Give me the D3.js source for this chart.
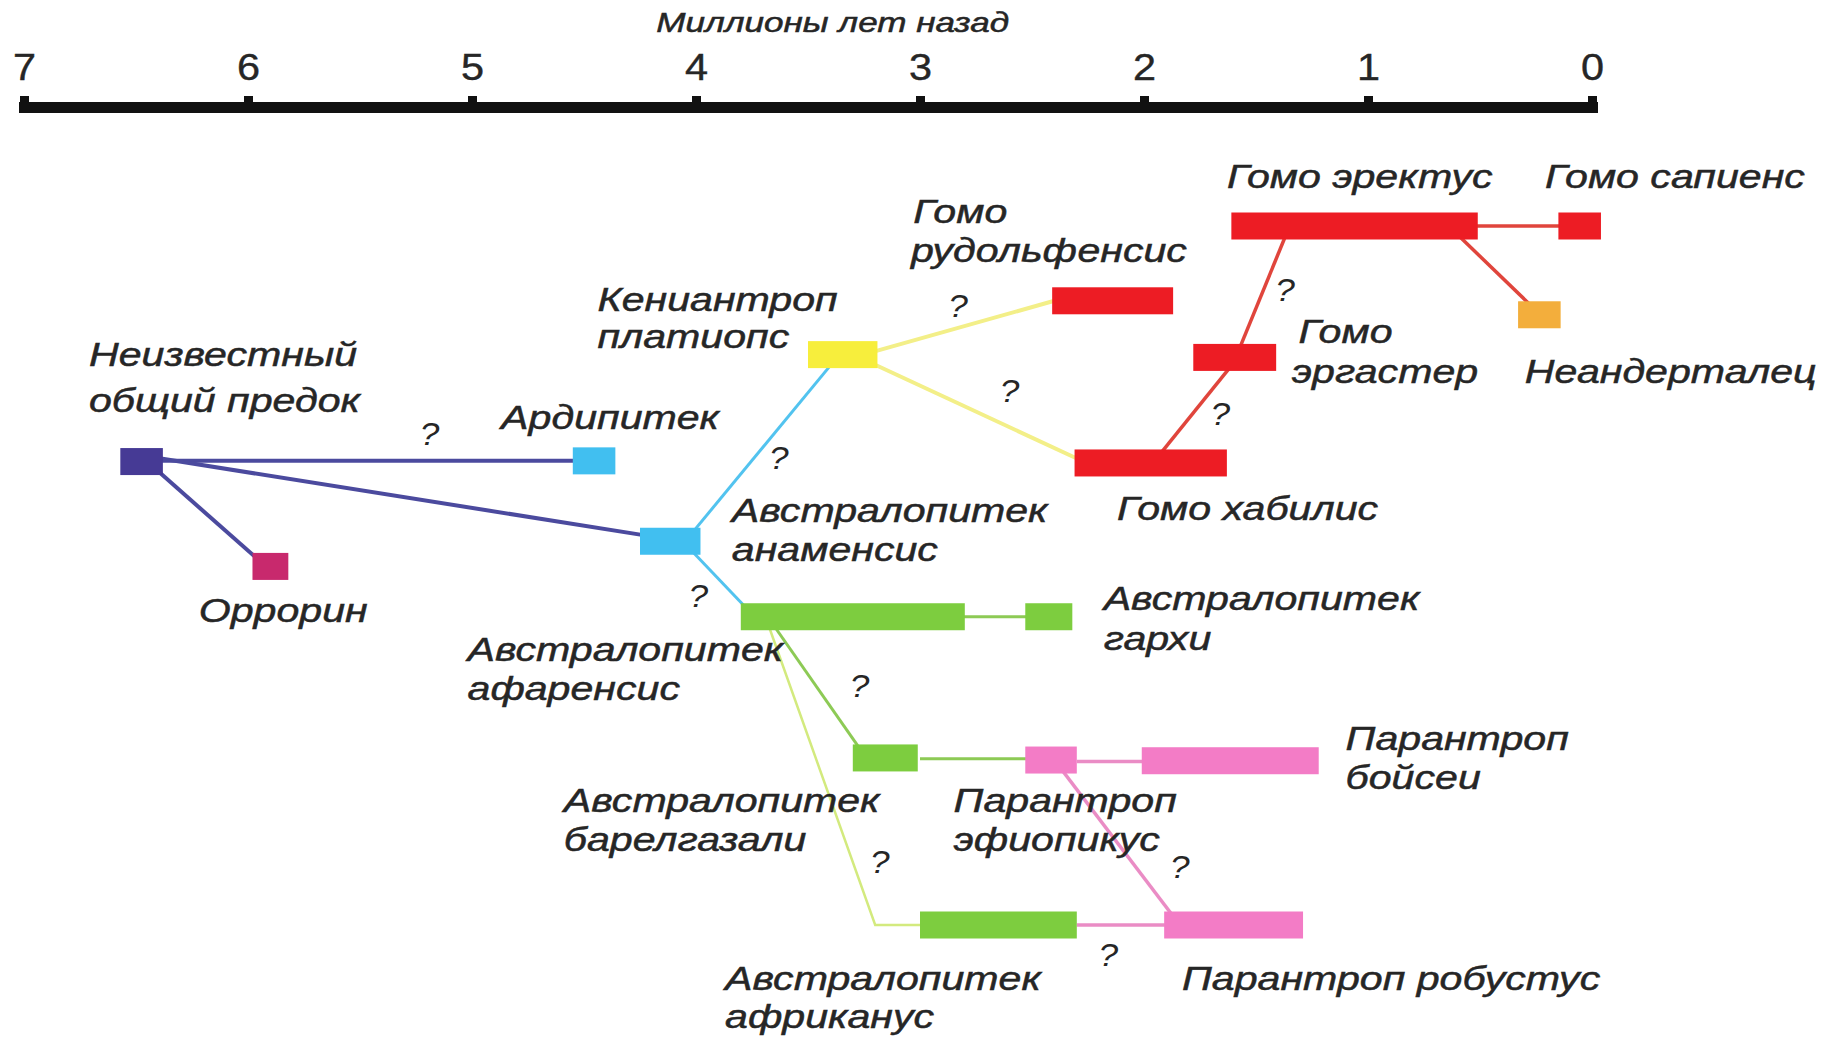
<!DOCTYPE html>
<html lang="ru">
<head>
<meta charset="UTF-8">
<title>Эволюция гоминид</title>
<style>
  html, body { margin: 0; padding: 0; background: #ffffff; }
  #SVG { display: block; }
  text { font-family: "Liberation Sans", Arial, sans-serif; fill: #262626; }
</style>
</head>
<body>
<svg id="SVG"></svg>
<script src="https://d3js.org/d3.v7.min.js"></script>
<script>
// ---------- данные ----------
// ось времени (млн лет назад)
var ticks = [7, 6, 5, 4, 3, 2, 1, 0];
var axisTitle = "Миллионы лет назад";
var axisTitleT = 3.39;

// виды: начало и конец (млн лет назад), ряд, группа цвета
var species = ["предок", "оррорин", "ардипитек", "анаменсис", "кениантроп",
  "рудольфенсис", "хабилис", "эргастер", "эректус", "сапиенс", "неандерталец",
  "афаренсис", "гархи", "барелгазали", "эфиопикус", "бойсеи", "африканус", "робустус"];
var starts = [6.57, 5.98, 4.55, 4.25, 3.50, 2.41, 2.31, 1.78, 1.61, 0.15, 0.33,
  3.80, 2.53, 3.30, 2.53, 2.01, 3.00, 1.91];
var ends = [6.38, 5.82, 4.36, 3.98, 3.19, 1.87, 1.63, 1.41, 0.51, -0.04, 0.14,
  2.80, 2.32, 3.01, 2.30, 1.22, 2.30, 1.29];
var rows = [3.37, 4.87, 3.36, 4.51, 1.84, 1.07, 3.39, 1.88, 0, 0, 1.27,
  5.59, 5.59, 7.61, 7.64, 7.65, 10, 10];
var groups = ["ancestor", "orrorin", "blue", "blue", "yellow",
  "red", "red", "red", "red", "red", "orange",
  "green", "green", "green", "pink", "pink", "green", "pink"];

// связи: точки [время, ряд]
var links = [
  [[6.47, 3.36], [4.46, 3.36]],
  [[6.48, 3.28], [4.20, 4.44]],
  [[6.45, 3.37], [5.92, 4.87]],
  [[4.03, 4.44], [3.36, 1.84]],
  [[4.03, 4.61], [3.78, 5.45]],
  [[3.21, 1.80], [2.40, 1.07]],
  [[3.21, 1.97], [2.29, 3.34]],
  [[1.35, 0], [1.59, 1.88]],
  [[1.58, 1.88], [1.96, 3.39]],
  [[1.00, 0], [0.05, 0]],
  [[0.64, 0], [0.23, 1.27]],
  [[3.00, 5.59], [2.40, 5.59]],
  [[3.68, 5.59], [3.24, 7.61]],
  [[3.69, 5.59], [3.20, 10], [2.90, 10]],
  [[3.00, 7.62], [2.45, 7.62]],
  [[2.30, 7.66], [1.95, 7.66]],
  [[2.40, 7.64], [1.84, 10]],
  [[2.30, 10], [1.85, 10]]
];
var linkGroups = ["ancestor", "ancestor", "ancestor", "blue", "blue", "yellow", "yellow",
  "redline", "redline", "redline", "redline", "green", "green", "light",
  "green", "pinkline", "pinkline", "pinkline"];

// знаки вопроса
var questionT = [5.19, 3.63, 3.99, 2.83, 2.60, 1.37, 1.66, 3.27, 3.18, 1.84, 2.16];
var questionRow = [3.14, 3.47, 5.45, 1.30, 2.52, 1.07, 2.84, 6.74, 9.26, 9.33, 10.58];

// подписи (каждая строка отдельно)
var labelText = ["Неизвестный", "общий предок", "Ардипитек", "Оррорин",
  "Кениантроп", "платиопс", "Гомо", "рудольфенсис", "Гомо эректус", "Гомо сапиенс",
  "Гомо", "эргастер", "Неандерталец", "Австралопитек", "анаменсис", "Гомо хабилис",
  "Австралопитек", "гархи", "Австралопитек", "афаренсис", "Парантроп", "бойсеи",
  "Австралопитек", "барелгазали", "Парантроп", "эфиопикус", "Австралопитек",
  "африканус", "Парантроп робустус"];
var labelT = [6.71, 6.71, 4.87, 6.22, 4.44, 4.44, 3.03, 3.04, 1.63, 0.21,
  1.31, 1.34, 0.30, 3.84, 3.84, 2.12, 2.18, 2.18, 5.02, 5.02, 1.10, 1.10,
  4.59, 4.59, 2.85, 2.85, 3.87, 3.87, 1.83];
var labelRow = [2.01, 2.66, 2.90, 5.66, 1.21, 1.75, -0.04, 0.51, -0.54, -0.54,
  1.68, 2.24, 2.24, 4.24, 4.79, 4.21, 5.50, 6.06, 6.23, 6.78, 7.50, 8.05,
  8.39, 8.94, 8.39, 8.94, 10.93, 11.48, 10.93];

// ---------- оформление ----------
var width = 1835;
var height = 1041;

var fills = {
  ancestor: "#463a95", orrorin: "#c8296d", blue: "#41bff0", yellow: "#f7ee3c",
  red: "#ed1c24", orange: "#f3ae3c", green: "#7dcd3f", pink: "#f37cc6"
};
var strokes = {
  ancestor: "#4b4a9e", blue: "#52c3ef", yellow: "#f3ef88", redline: "#e0453c",
  green: "#8dca55", light: "#d3ea7e", pinkline: "#ea8cc5"
};
var strokeW = {
  ancestor: 4, blue: 3, yellow: 4, redline: 3.5, green: 3, light: 2.5, pinkline: 3.5
};

var svg = d3.select("#SVG")
  .attr("width", width)
  .attr("height", height);

var x = d3.scaleLinear().domain([7, 0]).range([24, 1592]);
var y = d3.scaleLinear().domain([0, 10]).range([226, 925]);

// ось сверху
var axis = d3.axisTop(x)
  .tickValues(ticks)
  .tickFormat(d3.format("d"))
  .tickSize(11)
  .tickSizeOuter(0)
  .tickPadding(16);

var gAxis = svg.append("g")
  .attr("transform", "translate(0,107)")
  .call(axis);

gAxis.select(".domain")
  .attr("stroke", "#111")
  .attr("stroke-width", 11)
  .attr("stroke-linecap", "square");
gAxis.selectAll(".tick line")
  .attr("stroke", "#111")
  .attr("stroke-width", 9);
gAxis.selectAll(".tick text")
  .attr("font-family", "Liberation Sans, Arial, sans-serif")
  .attr("font-size", 37)
  .attr("fill", "#262626")
  .attr("stroke", "#262626")
  .attr("stroke-width", 0.4)
  .attr("transform", "scale(1.12,1)");

svg.append("text")
  .attr("transform", "translate(" + x(axisTitleT) + ",32) scale(1.3,1)")
  .attr("text-anchor", "middle")
  .attr("font-size", 27)
  .attr("font-style", "italic")
  .attr("stroke", "#262626")
  .attr("stroke-width", 0.5)
  .text(axisTitle);

// связи
var line = d3.line()
  .x(d => x(d[0]))
  .y(d => y(d[1]));

svg.append("g")
  .selectAll("path")
  .data(links)
  .enter()
  .append("path")
  .attr("d", line)
  .attr("fill", "none")
  .attr("stroke", (d, i) => strokes[linkGroups[i]])
  .attr("stroke-width", (d, i) => strokeW[linkGroups[i]]);

// прямоугольники видов
svg.append("g")
  .selectAll("rect")
  .data(species)
  .enter()
  .append("rect")
  .attr("x", (d, i) => x(starts[i]))
  .attr("width", (d, i) => x(ends[i]) - x(starts[i]))
  .attr("y", (d, i) => y(rows[i]) - 13.5)
  .attr("height", 27)
  .attr("fill", (d, i) => fills[groups[i]]);

// знаки вопроса
svg.append("g")
  .selectAll("text")
  .data(questionT)
  .enter()
  .append("text")
  .attr("transform", (d, i) => "translate(" + x(d) + "," + y(questionRow[i]) + ") scale(1.1,1)")
  .attr("text-anchor", "middle")
  .attr("font-size", 32)
  .attr("font-style", "italic")
  .attr("fill", "#3a3a3a")
  .text("?");

// подписи
svg.append("g")
  .selectAll("text")
  .data(labelText)
  .enter()
  .append("text")
  .attr("transform", (d, i) => "translate(" + x(labelT[i]) + "," + y(labelRow[i]) + ") scale(1.21,1)")
  .attr("font-size", 34)
  .attr("font-style", "italic")
  .attr("stroke", "#262626")
  .attr("stroke-width", 0.5)
  .text(d => d);
</script>
</body>
</html>
